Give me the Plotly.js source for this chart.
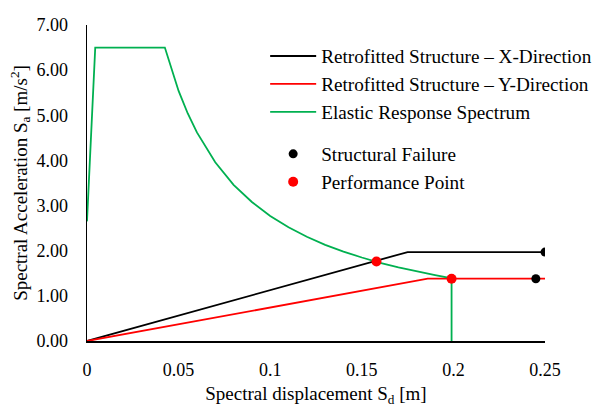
<!DOCTYPE html>
<html>
<head>
<meta charset="utf-8">
<script src="https://cdn.plot.ly/plotly-3.0.1.min.js"></script>
<style>html,body{margin:0;padding:0;background:#fff;}#chart{width:599px;height:407px;}</style>
</head>
<body>
<div id="chart"></div>
<script>
// Retrofitted structure capacity curves
const xDirSd = [0, 0.175, 0.25];
const xDirSa = [0, 1.97, 1.97];
const yDirSd = [0, 0.186, 0.251];
const yDirSa = [0, 1.38, 1.38];
// Elastic response spectrum
const elasticSd = [0, 0.0045, 0.0425, 0.05, 0.055, 0.06, 0.07, 0.08, 0.09, 0.10, 0.11, 0.12, 0.13, 0.14, 0.15, 0.16, 0.17, 0.18, 0.19, 0.199, 0.199];
const elasticSa = [2.65, 6.5, 6.5, 5.54, 5.04, 4.62, 3.96, 3.46, 3.08, 2.77, 2.52, 2.31, 2.13, 1.98, 1.85, 1.73, 1.63, 1.54, 1.46, 1.39, 0];
// Points
const failureSd = [0.25, 0.245];
const failureSa = [1.97, 1.38];
const perfSd = [0.158, 0.199];
const perfSa = [1.76, 1.38];
const xTicks = [0, 0.05, 0.1, 0.15, 0.2, 0.25];
const xTickText = ['0', '0.05', '0.1', '0.15', '0.2', '0.25'];
const yTicks = [0, 1, 2, 3, 4, 5, 6, 7];

const fam = '"Liberation Serif", "Times New Roman", serif';
const tickFont = {family: fam, size: 18, color: '#000'};
const titleFont = {family: fam, size: 19, color: '#000'};
const legendFont = {family: fam, size: 19.2, color: '#000'};

const traces = [
  {x: xDirSd, y: xDirSa, mode: 'lines', name: 'Retrofitted Structure – X-Direction',
   line: {color: '#000000', width: 1.8}, legendgroup: 'lines'},
  {x: yDirSd, y: yDirSa, mode: 'lines', name: 'Retrofitted Structure – Y-Direction',
   line: {color: '#ff0000', width: 1.8}, legendgroup: 'lines'},
  {x: elasticSd, y: elasticSa, mode: 'lines', name: 'Elastic Response Spectrum',
   line: {color: '#00b050', width: 1.8}, legendgroup: 'lines'},
  {x: failureSd, y: failureSa, mode: 'markers', name: 'Structural Failure',
   marker: {color: '#000000', size: 9}, legendgroup: 'pts'},
  {x: perfSd, y: perfSa, mode: 'markers', name: 'Performance Point',
   marker: {color: '#ff0000', size: 10}, legendgroup: 'pts'}
];

const layout = {
  width: 599, height: 407,
  margin: {l: 87, r: 54, t: 25, b: 66, autoexpand: false},
  paper_bgcolor: '#fff', plot_bgcolor: '#fff',
  font: tickFont,
  showlegend: true,
  legend: {x: 0.389, y: 0.962, xanchor: 'left', yanchor: 'top', bgcolor: 'rgba(0,0,0,0)',
           font: legendFont, traceorder: 'grouped', tracegroupgap: 14, itemwidth: 46},
  xaxis: {range: [0, 0.25], tickvals: xTicks, ticktext: xTickText, showgrid: false, zeroline: false,
          showline: true, linecolor: '#000', linewidth: 1.5, ticks: '', tickfont: tickFont, ticklabelstandoff: 12,
          title: {text: 'Spectral displacement S<sub>d</sub> [m]', font: titleFont, standoff: 10}},
  yaxis: {range: [0, 7], tickvals: yTicks, tickformat: '.2f', showgrid: false, zeroline: false,
          showline: true, linecolor: '#000', linewidth: 1.5, ticks: '', tickfont: tickFont, ticklabelstandoff: 14,
          title: {text: 'Spectral Acceleration S<sub>a</sub> [m/s<sup>2</sup>]', font: titleFont, standoff: 4}}
};

Plotly.newPlot('chart', traces, layout, {staticPlot: true, displayModeBar: false});
</script>
</body>
</html>
